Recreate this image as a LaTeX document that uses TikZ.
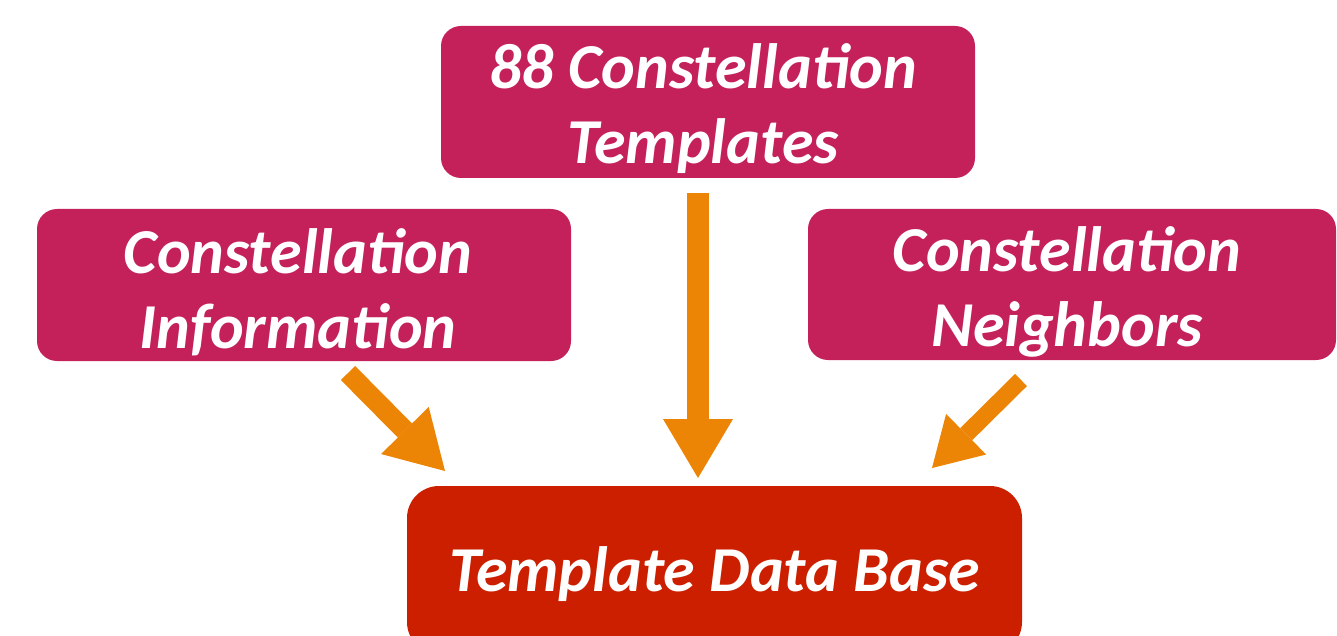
\documentclass[tikz,border=0pt]{standalone}
\usepackage{fontspec}
\setmainfont{Carlito}
\usetikzlibrary{arrows.meta}
\definecolor{boxmagenta}{HTML}{C4215B}
\definecolor{boxred}{HTML}{CC1F00}
\definecolor{flow}{HTML}{EC8505}
\tikzset{
  boxtext/.style={text=white, align=center, inner sep=0pt,
    font=\fontsize{64}{75}\selectfont\bfseries\itshape},
  source/.style={fill=boxmagenta, rounded corners=20pt, inner sep=0pt},
  target/.style={fill=boxred, rounded corners=32pt, inner sep=0pt},
  blockarrow/.style={draw=flow, line width=#1, line cap=butt},
  bighead/.style n args={2}{-{Triangle[width=#1,length=#2,line width=0pt]}}
}
\begin{document}
\begin{tikzpicture}[x=1pt,y=-1pt]
  \useasboundingbox (0,0) rectangle (1337,636);

  % input boxes
  \node[source, minimum width=534pt, minimum height=152pt,
    label={[boxtext, xshift=-5pt, yshift=-7pt]center:88 Constellation\\Templates}]
    (tpl) at (708,102) {};
  \node[source, minimum width=534pt, minimum height=152pt,
    label={[boxtext, xshift=-6pt, yshift=-7pt]center:Constellation\\Information}]
    (info) at (304,285) {};
  \node[source, minimum width=528pt, minimum height=151pt,
    label={[boxtext, xshift=-5pt, yshift=-7pt]center:Constellation\\Neighbors}]
    (nbr) at (1072,284.5) {};

  % result box (runs past the lower edge)
  \node[target, minimum width=615pt, minimum height=168pt,
    label={[boxtext, xshift=0pt, yshift=-4pt]center:Template Data Base}]
    (db) at (714.5,570) {};

  % arrow end points
  \coordinate (infoOut) at (348,373);
  \coordinate (infoIn)  at (445,471);
  \coordinate (tplOut)  at (698,193);
  \coordinate (tplIn)   at (698,478);
  \coordinate (nbrOut)  at (1021,380);
  \coordinate (nbrIn)   at (932,468);

  % flow arrows into the data base
  \draw[blockarrow=20pt, bighead={67pt}{57pt}] (infoOut) -- (infoIn);
  \draw[blockarrow=22pt, bighead={70pt}{59pt}] (tplOut) -- (tplIn);
  \draw[blockarrow=17pt, bighead={57pt}{48pt}] (nbrOut) -- (nbrIn);
\end{tikzpicture}
\end{document}
